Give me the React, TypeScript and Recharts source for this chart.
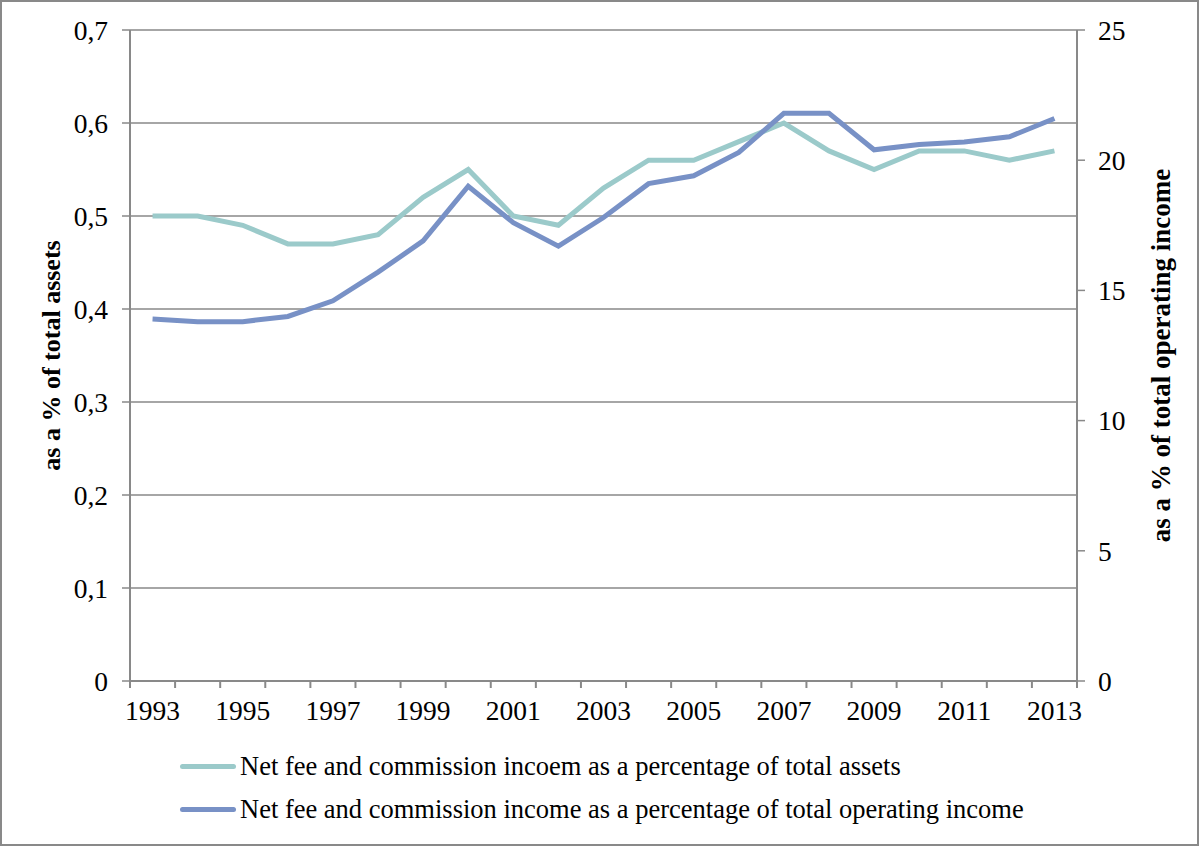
import { LineChart, Line, XAxis, YAxis, CartesianGrid, Legend } from 'recharts';

const years = [
  1993, 1994, 1995, 1996, 1997, 1998, 1999, 2000, 2001, 2002, 2003,
  2004, 2005, 2006, 2007, 2008, 2009, 2010, 2011, 2012, 2013,
];

// left axis: share of total assets
const feeToAssets = [
  0.5, 0.5, 0.49, 0.47, 0.47, 0.48, 0.52, 0.55, 0.5, 0.49, 0.53,
  0.56, 0.56, 0.58, 0.6, 0.57, 0.55, 0.57, 0.57, 0.56, 0.57,
];

// right axis: share of total operating income
const feeToIncome = [
  13.9, 13.8, 13.8, 14.0, 14.6, 15.7, 16.9, 19.0, 17.6, 16.7, 17.8,
  19.1, 19.4, 20.3, 21.8, 21.8, 20.4, 20.6, 20.7, 20.9, 21.6,
];

const leftTicks = [0, 0.1, 0.2, 0.3, 0.4, 0.5, 0.6, 0.7];
const rightTicks = [0, 5, 10, 15, 20, 25];

const seriesNames = [
  'Net fee and commission incoem as a percentage of total assets',
  'Net fee and commission income as a percentage of total operating income',
];

const TEAL = '#9bcaca';
const BLUE = '#7891c6';
const GRAY = '#898989';
const FONT = '"Liberation Serif", "Times New Roman", serif';
const TICK_SIZE = 27.5;

const data = years.map((year, i) => ({
  year,
  assets: feeToAssets[i],
  income: feeToIncome[i],
}));

const PLOT_LEFT = 130;
const PLOT_RIGHT = 1077;
const BAND = (PLOT_RIGHT - PLOT_LEFT) / years.length;

const YearTick = (props: any) => {
  const { x, y, payload, index } = props;
  const showLabel = index % 2 === 0;
  const last = index === years.length - 1;
  return (
    <g>
      <line x1={x - BAND / 2} x2={x - BAND / 2} y1={y} y2={y + 7} stroke={GRAY} strokeWidth={2} />
      {last && (
        <line x1={x + BAND / 2} x2={x + BAND / 2} y1={y} y2={y + 7} stroke={GRAY} strokeWidth={2} />
      )}
      {showLabel && (
        <text x={x} y={y + 39} textAnchor="middle" fontFamily={FONT} fontSize={TICK_SIZE} fill="#000">
          {payload.value}
        </text>
      )}
    </g>
  );
};

const LegendBox = () => (
  <div style={{ height: 125, fontFamily: FONT, fontSize: 26.5, color: '#000', paddingLeft: 180, paddingTop: 24, boxSizing: 'border-box', textAlign: 'left' }}>
    {[TEAL, BLUE].map((c, i) => (
      <div key={i} style={{ display: 'flex', alignItems: 'center', height: 43 }}>
        <span style={{ display: 'inline-block', width: 56, height: 5, borderRadius: 3, background: c, marginRight: 4 }} />
        <span>{seriesNames[i]}</span>
      </div>
    ))}
  </div>
);

const titleStyle = { fontFamily: FONT, fontSize: 27, fontWeight: 'bold', fill: '#000', textAnchor: 'middle' } as const;

export default function App() {
  return (
    <div style={{ position: 'absolute', left: 0, top: 0, width: 1199, height: 846, background: '#fff' }}>
      <LineChart width={1199} height={846} data={data} margin={{ top: 30, right: 0, bottom: 0, left: 0 }}>
        <CartesianGrid vertical={false} stroke={GRAY} strokeWidth={1.5} yAxisId="left" />
        <XAxis
          dataKey="year"
          interval={0}
          height={40}
          padding={{ left: BAND / 2, right: BAND / 2 }}
          axisLine={{ stroke: GRAY, strokeWidth: 2 }}
          tickLine={false}
          tickSize={0}
          tickMargin={0}
          tick={<YearTick />}
        />
        <YAxis
          yAxisId="left"
          width={130}
          domain={[0, 0.7]}
          ticks={leftTicks}
          tickFormatter={(v: number) => (v === 0 ? '0' : v.toFixed(1).replace('.', ','))}
          axisLine={{ stroke: GRAY, strokeWidth: 2 }}
          tickLine={{ stroke: GRAY, strokeWidth: 1.5 }}
          tickSize={8}
          tickMargin={14}
          tick={{ fontFamily: FONT, fontSize: TICK_SIZE, fill: '#000' }}
          label={{ value: 'as a % of total assets', angle: -90, position: 'center', dx: -14, style: { ...titleStyle, fontSize: 26 } }}
        />
        <YAxis
          yAxisId="right"
          orientation="right"
          width={122}
          domain={[0, 25]}
          ticks={rightTicks}
          axisLine={{ stroke: GRAY, strokeWidth: 2 }}
          tickLine={{ stroke: GRAY, strokeWidth: 1.5 }}
          tickSize={8}
          tickMargin={13}
          tick={{ fontFamily: FONT, fontSize: TICK_SIZE, fill: '#000' }}
          label={{ value: 'as a % of total operating income', angle: -90, position: 'center', dx: 22, style: titleStyle }}
        />
        <Legend verticalAlign="bottom" content={<LegendBox />} />
        <Line
          yAxisId="left"
          type="linear"
          dataKey="assets"
          name={seriesNames[0]}
          stroke={TEAL}
          strokeWidth={5}
          dot={false}
          isAnimationActive={false}
        />
        <Line
          yAxisId="right"
          type="linear"
          dataKey="income"
          name={seriesNames[1]}
          stroke={BLUE}
          strokeWidth={5}
          dot={false}
          isAnimationActive={false}
        />
      </LineChart>
      <div style={{ position: 'absolute', left: 0, top: 0, width: 1199, height: 846, border: `2px solid ${GRAY}`, boxSizing: 'border-box', pointerEvents: 'none' }} />
    </div>
  );
}
